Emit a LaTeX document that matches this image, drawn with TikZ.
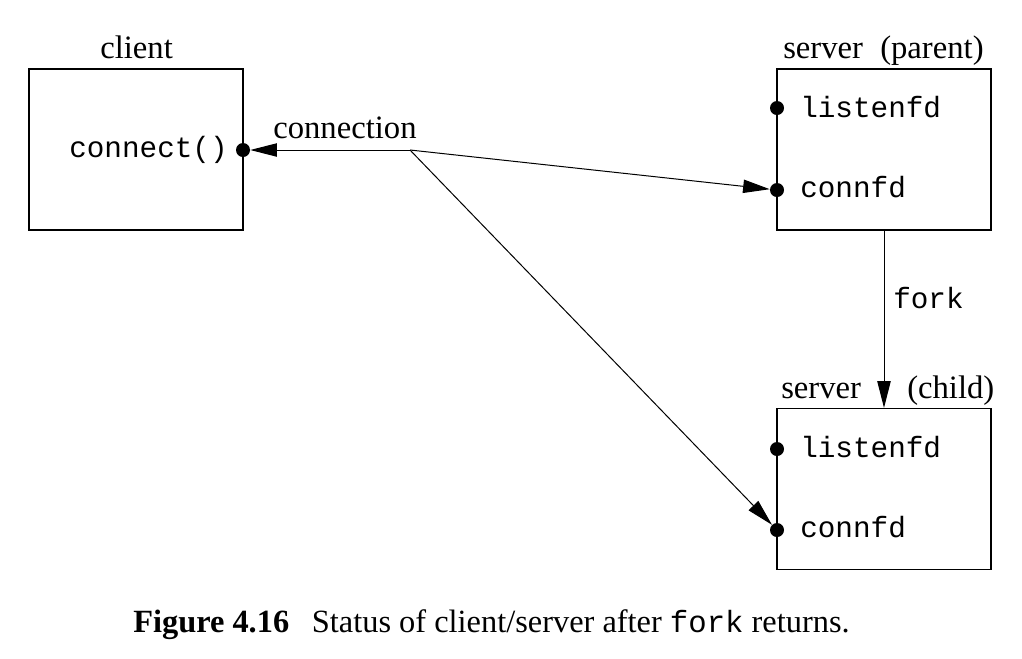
\documentclass[tikz,border=0pt]{standalone}
\usepackage{fontspec}
\setmainfont{Liberation Serif}
\setmonofont{Liberation Mono}
\usetikzlibrary{arrows.meta}
\begin{document}
\begin{tikzpicture}[x=0.75pt,y=-0.75pt,
  box/.style={draw,line width=0.9pt,minimum width=160.5pt,minimum height=120.75pt,inner sep=0},
  dot/.style={circle,fill,inner sep=0,minimum size=10.5pt},
  lbl/.style={font=\fontsize{24.5}{28}\selectfont,anchor=base west,inner sep=0},
  code/.style={font=\fontsize{22}{26}\selectfont\ttfamily,anchor=base west,inner sep=0},
  arr/.style={line width=0.75pt,-{Triangle[length=20pt,width=10pt]}},
]
\useasboundingbox (0,0) rectangle (1022,658);
% boxes
\node[box] (client) at (136,149.5) {};
\node[box] (parent) at (884,149.5) {};
\node[box] (child) at (884,489) {};
% dots
\node[dot] (cdot) at (243,150) {};
\node[dot] (plisten) at (777,108) {};
\node[dot] (pconn) at (777,190) {};
\node[dot] (clisten) at (777,449) {};
\node[dot] (cconn) at (777,530) {};
\coordinate (j) at (410,150);
% connectors
\draw[arr] (j) -- (cdot);
\draw[arr] (j) -- (pconn);
\draw[arr] (j) -- (cconn);
\draw[arr] (parent.south) -- (child.north);
% labels
\node[lbl] (clientlbl) at (100,58) {client};
\node[lbl] (connlbl) at (273,138) {connection};
\node[code] (connecttxt) at (69,157) {connect()};
\node[lbl] (pserver) at (783,58) {server};
\node[lbl] (pparent) at (880,58) {(parent)};
\node[code] (plistentxt) at (800,117) {listenfd};
\node[code] (pconntxt) at (800,197) {connfd};
\node[code] (forktxt) at (893,308) {fork};
\node[lbl] (cserver) at (781,398) {server};
\node[lbl] (cchild) at (907,398) {(child)};
\node[code] (clistentxt) at (800,457) {listenfd};
\node[code] (cconntxt) at (800,537) {connfd};
% caption
\node[anchor=base west,inner sep=0,font=\fontsize{24.3}{28}\selectfont] (caption) at (133,632)
  {{\bfseries Figure 4.16}\hspace{0.7em}Status of client/server after {\ttfamily\fontsize{23}{28}\selectfont fork} returns.};
\end{tikzpicture}
\end{document}
